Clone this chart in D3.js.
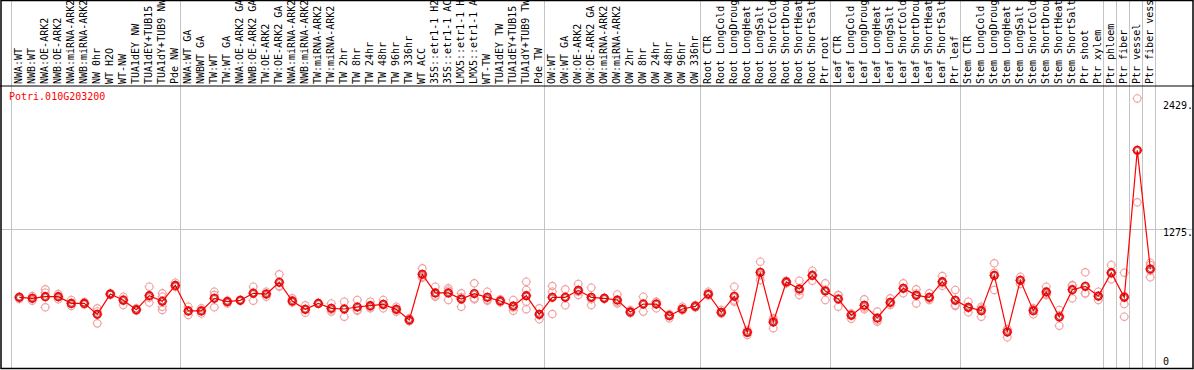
<!DOCTYPE html>
<html>
  <head>
    <title>Potri.010G203200 expression</title>
    <script src="https://d3js.org/d3.v7.min.js"></script>
    <style>
      body {
        margin: 0;
        background: white;
      }
      text {
        font-family: "DejaVu Sans Mono", monospace;
        font-size: 10px;
      }
    </style>
  </head>
  <body>
    <div id="chart"></div>
    <script>
      const geneId = "Potri.010G203200";

      const categories = [
        "NWA:WT", "NWB:WT", "NWA:OE-ARK2", "NWB:OE-ARK2", "NWA:miRNA-ARK2", "NWB:miRNA-ARK2",
        "NW 0hr", "WT H2O", "WT-NW", "TUA1dEY NW", "TUA1dEY+TUB15 NW", "TUA1dY+TUB9 NW", "Pde NW",
        "NWA:WT GA", "NWBWT GA", "TW:WT", "TW:WT GA", "NWA:OE-ARK2 GA", "NWB:OE-ARK2 GA",
        "TW:OE-ARK2", "TW:OE-ARK2 GA", "NWA:miRNA-ARK2", "NWB:miRNA-ARK2", "TW:miRNA-ARK2",
        "TW:miRNA-ARK2", "TW 2hr", "TW 8hr", "TW 24hr", "TW 48hr", "TW 96hr", "TW 336hr", "WT ACC",
        "35S::etr1-1 H2O", "35S::etr1-1 ACC", "LMX5::etr1-1 H2O", "LMX5::etr1-1 ACC", "WT-TW",
        "TUA1dEY TW", "TUA1dEY+TUB15 TW", "TUA1dY+TUB9 TW", "Pde TW",
        "OW:WT", "OW:WT GA", "OW:OE-ARK2", "OW:OE-ARK2 GA", "OW:miRNA-ARK2", "OW:miRNA-ARK2",
        "OW 2hr", "OW 8hr", "OW 24hr", "OW 48hr", "OW 96hr", "OW 336hr",
        "Root CTR", "Root LongCold", "Root LongDrought", "Root LongHeat", "Root LongSalt",
        "Root ShortCold", "Root ShortDrought", "Root ShortHeat", "Root ShortSalt", "Ptr root",
        "Leaf CTR", "Leaf LongCold", "Leaf LongDrought", "Leaf LongHeat", "Leaf LongSalt",
        "Leaf ShortCold", "Leaf ShortDrought", "Leaf ShortHeat", "Leaf ShortSalt", "Ptr leaf",
        "Stem CTR", "Stem LongCold", "Stem LongDrought", "Stem LongHeat", "Stem LongSalt",
        "Stem ShortCold", "Stem ShortDrought", "Stem ShortHeat", "Stem ShortSalt", "Ptr shoot", "Ptr xylem",
        "Ptr phloem", "Ptr fiber", "Ptr vessel", "Ptr fiber vessel"
      ];

      // number of samples in each block between the grey separators
      const groupSizes = [13, 28, 12, 10, 10, 11, 1, 1, 1, 1];

      const means = [
        648, 639, 654, 654, 593, 593, 493, 678, 621, 536, 663, 612, 757,
        524, 524, 639, 609, 621, 685, 678, 785, 615, 539, 593, 548, 542, 560, 572, 584,
        539, 442, 858, 688, 688, 633, 682, 648, 615, 569, 663, 493,
        648, 648, 712, 648, 639, 624, 515, 587, 587, 481, 542, 566,
        678, 512, 657, 329, 876, 423, 788, 724, 848, 706,
        633, 484, 575, 460, 603, 730, 666, 648, 791, 621,
        557, 527, 848, 332, 803, 527, 697, 469, 718, 748, 660,
        873, 648, 1987, 906
      ];

      const replicates = [
        [654, 645, 632], [660, 618, 639], [721, 691, 557], [678, 630, 655], [624, 569, 590],
        [606, 590, 584], [548, 411, 520], [678, 670, 686], [654, 578, 630], [548, 527, 533],
        [745, 600, 645], [685, 654, 563, 533], [782, 745, 745],
        [563, 487, 522], [548, 500, 525], [700, 669, 557], [593, 620, 614], [624, 615, 624],
        [745, 618, 692], [700, 654, 680], [858, 751, 745], [639, 600, 606], [575, 508, 535],
        [593, 590, 596], [593, 518, 535], [609, 472, 545], [624, 533, 525], [609, 548, 560],
        [624, 548, 580], [563, 518, 536], [457, 430, 440], [912, 836, 826], [745, 654, 665],
        [730, 624, 710], [685, 563, 650], [776, 639, 630], [700, 618, 625], [630, 600, 615],
        [624, 527, 555], [791, 715, 609, 540], [548, 448, 485],
        [751, 700, 496], [721, 575, 648], [770, 669, 700], [736, 578, 630], [639, 645, 633],
        [675, 593, 605], [533, 505, 507], [654, 518, 590], [548, 605, 608], [457, 490, 495],
        [563, 530, 533], [578, 555, 565],
        [700, 665, 670], [533, 500, 503], [745, 609, 620], [351, 305, 330], [973, 851, 805],
        [457, 367, 445], [800, 775, 790], [800, 669, 705], [891, 800, 852], [776, 624, 718],
        [669, 563, 667], [454, 500, 498], [630, 539, 556], [518, 426, 440], [639, 578, 592],
        [776, 685, 729], [721, 593, 684], [685, 624, 635], [842, 754, 777], [715, 578, 570],
        [609, 512, 550], [563, 472, 546], [958, 715, 871], [357, 284, 355], [836, 770, 803],
        [548, 493, 540], [745, 669, 677], [533, 390, 484], [754, 639, 761], [876, 685, 683],
        [700, 624, 656],
        [943, 812, 864], [873, 587, 472, 660], [2460, 1513, 1988], [964, 943, 830, 890]
      ];

      const tickValues = [0, 1275, 2429];
      const tickLabels = ["0", "1275.", "2429."];
      const gridValues = [1275];

      const W = 1194, H = 370;
      const plotLeft = 11, plotRight = 1155, plotTop = 86, plotBottom = 368.5;

      const svg = d3
        .select("#chart")
        .append("svg")
        .attr("width", W)
        .attr("height", H);

      // names repeat (e.g. TW:miRNA-ARK2), so the band scale works on indexes
      const x = d3.scaleBand().domain(d3.range(categories.length)).range([plotLeft, plotRight]);
      const y = d3.scaleLinear().domain([0, 1275]).range([plotBottom, 228.5]);
      const cx = (i) => x(i) + 8.3;

      // grey separators between sample blocks
      let bounds = [0];
      groupSizes.forEach((n) => bounds.push(bounds[bounds.length - 1] + n));
      svg
        .append("g")
        .selectAll("line")
        .data(bounds)
        .join("line")
        .attr("x1", (b) => (b < categories.length ? x(b) : plotRight) + 0.5)
        .attr("x2", (b) => (b < categories.length ? x(b) : plotRight) + 0.5)
        .attr("y1", 0)
        .attr("y2", plotBottom)
        .attr("stroke", "#c4c4c4")
        .attr("stroke-width", 1);

      // horizontal grid line
      svg
        .append("g")
        .selectAll("line")
        .data(gridValues)
        .join("line")
        .attr("x1", 1)
        .attr("x2", W - 1)
        .attr("y1", (d) => Math.round(y(d)) + 0.5)
        .attr("y2", (d) => Math.round(y(d)) + 0.5)
        .attr("stroke", "#c4c4c4");

      // sample labels, rotated; the header only has room for 14 characters
      svg
        .append("g")
        .selectAll("text")
        .data(categories)
        .join("text")
        .attr("transform", (d, i) => `translate(${x(i) + 10.5},84) rotate(-90)`)
        .attr("fill", "black")
        .text((d) => d.slice(0, 14).trim());

      // frame lines
      const frame = svg.append("g").attr("stroke", "black").attr("fill", "none");
      frame.append("rect").attr("x", 1).attr("y", 0.5).attr("width", W - 2).attr("height", plotBottom - 0.5).attr("stroke-width", 1.5);
      frame.append("line").attr("x1", 0).attr("x2", W).attr("y1", plotTop).attr("y2", plotTop).attr("stroke-width", 1.2);

      // marker: circle with four small spokes
      function marker(g, px, py, r, color, sw) {
        g.append("circle").attr("cx", px).attr("cy", py).attr("r", r)
          .attr("fill", "none").attr("stroke", color).attr("stroke-width", sw);
        [[0, -1], [0, 1], [-1, 0], [1, 0]].forEach(([dx, dy]) => {
          g.append("line")
            .attr("x1", px + dx * r).attr("y1", py + dy * r)
            .attr("x2", px + dx * (r + 1.2)).attr("y2", py + dy * (r + 1.2))
            .attr("stroke", color).attr("stroke-width", 0.8);
        });
      }

      // replicates
      const repG = svg.append("g");
      replicates.forEach((reps, i) => {
        reps.forEach((v) => marker(repG, cx(i), y(v), 3.7, "#f0a0a0", 1.1));
      });

      // mean line
      svg
        .append("path")
        .datum(means)
        .attr("fill", "none")
        .attr("stroke", "#ff0000")
        .attr("stroke-width", 1.2)
        .attr("d", d3.line().x((d, i) => cx(i)).y((d) => y(d)));

      // means
      const meanG = svg.append("g");
      means.forEach((v, i) => {
        marker(meanG, cx(i), y(v), 3.8, "#ff0000", 1.6);
        meanG.append("circle").attr("cx", cx(i)).attr("cy", y(v)).attr("r", 2.7)
          .attr("fill", "none").attr("stroke", "#600").attr("stroke-width", 0.6);
      });

      // value labels on the right
      svg
        .append("g")
        .selectAll("text")
        .data(tickValues)
        .join("text")
        .attr("x", 1163)
        .attr("y", (d) => Math.min(y(d) + 7.5, plotBottom - 3.5))
        .attr("fill", "black")
        .text((d, i) => tickLabels[i]);

      // gene title
      svg
        .append("text")
        .attr("x", 9)
        .attr("y", 100)
        .attr("fill", "#ff0000")
        .text(geneId);
    </script>
  </body>
</html>
